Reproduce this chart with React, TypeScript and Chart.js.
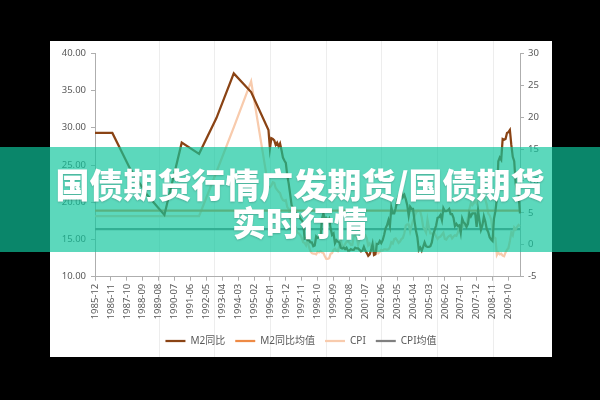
import React, { useEffect, useRef } from 'react';
import { Chart, registerables } from 'chart.js';

Chart.register(...registerables);

// ---------- data ----------
const START_YEAR = 1985;
const START_MONTH = 12;
const MONTH_COUNT = 295; // 1985-12 .. 2010-06

const CATEGORIES: string[] = [];
for (let i = 0; i < MONTH_COUNT; i++) {
  const m0 = START_MONTH - 1 + i;
  const y = START_YEAR + Math.floor(m0 / 12);
  const m = (m0 % 12) + 1;
  CATEGORIES.push(`${y}-${m < 10 ? '0' + m : m}`);
}

const TICK_LABELS = [
  '1985-12', '1986-11', '1987-10', '1988-09', '1989-08', '1990-07', '1991-06',
  '1992-05', '1993-04', '1994-03', '1995-02', '1996-01', '1996-12', '1997-11',
  '1998-10', '1999-09', '2000-08', '2001-07', '2002-06', '2003-05', '2004-04',
  '2005-03', '2006-02', '2007-01', '2007-12', '2008-11', '2009-10',
];

const LEFT_TICKS = [10, 15, 20, 25, 30, 35, 40];
const RIGHT_TICKS = [-5, 0, 5, 10, 15, 20, 25, 30];

const MONTHLY_START = '1996-01';

// M2 同比: early years only year-end readings
const M2_EARLY_DATES = ['1985-12', '1986-12', '1987-12', '1988-12', '1989-12', '1990-12', '1991-12', '1992-12', '1993-12', '1994-12', '1995-12'];
const M2_EARLY_VALUES = [29.3, 29.3, 24.6, 21.0, 18.3, 28.0, 26.5, 31.3, 37.3, 34.8, 29.7];

const M2_MONTHLY = [
  27.2, 28.6, 28.5, 28.3, 27.7, 28.0, 27.5, 27.9, 27.0, 26.0, 25.6, 25.3, // 1996
  23.6, 22.5, 21.1, 19.6, 19.2, 18.8, 18.6, 18.3, 18.2, 17.8, 17.6, 17.3, // 1997
  15.1, 15.2, 14.9, 14.9, 14.6, 14.6, 14.1, 14.2, 15.4, 15.2, 15.3, 15.3, // 1998
  17.8, 18.5, 17.8, 17.9, 17.5, 17.8, 16.5, 15.6, 15.8, 14.5, 14.9, 14.7, // 1999
  14.6, 13.9, 13.8, 13.9, 13.7, 13.9, 13.5, 13.5, 13.7, 13.6, 13.6, 13.9, // 2000
  13.8, 13.8, 13.6, 13.4, 13.5, 14.0, 13.5, 13.2, 12.8, 13.0, 13.6, 14.4, // 2001
  12.9, 13.0, 14.4, 14.4, 14.8, 14.5, 14.9, 15.6, 16.5, 16.9, 17.6, 16.8, // 2002
  19.3, 18.5, 18.5, 19.2, 20.2, 20.8, 20.7, 21.6, 20.7, 21.0, 20.4, 19.6, // 2003
  18.2, 19.4, 19.1, 19.1, 17.5, 16.2, 15.3, 13.6, 13.9, 13.5, 14.0, 14.6, // 2004
  14.1, 14.0, 14.0, 14.1, 14.6, 15.7, 16.3, 16.9, 17.9, 18.0, 18.3, 17.6, // 2005
  19.2, 18.8, 18.8, 18.9, 19.1, 18.4, 18.4, 17.9, 16.8, 17.1, 16.8, 16.9, // 2006
  15.9, 17.8, 17.3, 17.1, 16.7, 17.1, 18.5, 18.1, 18.5, 18.5, 18.5, 16.7, // 2007
  18.9, 17.5, 16.3, 16.9, 18.1, 17.4, 16.4, 16.0, 15.3, 15.0, 14.8, 17.8, // 2008
  18.8, 20.5, 25.5, 26.0, 25.7, 28.5, 28.4, 28.5, 29.3, 29.4, 29.7, 27.7, // 2009
  26.1, 25.5, 22.5, 21.5, 21.0, 18.5, // 2010
];

// CPI: early years only sparse readings
const CPI_EARLY_DATES = ['1985-12', '1986-12', '1987-12', '1988-12', '1989-12', '1990-12', '1991-12', '1992-12', '1993-12', '1994-12', '1995-12'];
const CPI_EARLY_VALUES = [4.5, 4.5, 4.5, 4.5, 4.5, 4.5, 4.5, 11.4, 18.4, 25.6, 9.0];

const CPI_MONTHLY = [
  9.0, 9.3, 9.8, 9.7, 8.9, 8.6, 8.3, 8.1, 7.4, 7.0, 6.9, 7.0, // 1996
  5.9, 5.6, 4.0, 3.2, 2.8, 2.8, 2.7, 1.9, 1.8, 1.5, 1.1, 0.4, // 1997
  0.3, -0.1, 0.7, -0.3, -1.0, -1.3, -1.4, -1.4, -1.5, -1.1, -1.2, -1.0, // 1998
  -1.2, -1.3, -1.8, -2.2, -2.2, -2.1, -1.4, -1.3, -0.8, -0.6, -0.9, -1.0, // 1999
  -0.2, 0.7, -0.2, -0.3, 0.1, 0.5, 0.5, 0.3, 0.0, 0.0, 1.3, 1.5, // 2000
  1.2, 0.0, 0.8, 1.6, 1.7, 1.4, 1.5, 1.0, -0.1, 0.2, -0.3, -0.3, // 2001
  -1.0, 0.0, -0.8, -1.3, -1.1, -0.8, -0.9, -0.7, -0.7, -0.8, -0.7, -0.4, // 2002
  0.4, 0.2, 0.9, 1.0, 0.7, 0.3, 0.5, 0.9, 1.1, 1.8, 3.0, 3.2, // 2003
  3.2, 2.1, 3.0, 3.8, 4.4, 5.0, 5.3, 5.3, 5.2, 4.3, 2.8, 2.4, // 2004
  1.9, 3.9, 2.7, 1.8, 1.8, 1.6, 1.8, 1.3, 0.9, 1.2, 1.3, 1.6, // 2005
  1.9, 0.9, 0.8, 1.2, 1.4, 1.5, 1.0, 1.3, 1.5, 1.4, 1.9, 2.8, // 2006
  2.2, 2.7, 3.3, 3.0, 3.4, 4.4, 5.6, 6.5, 6.2, 6.5, 6.9, 6.5, // 2007
  7.1, 8.7, 8.3, 8.5, 7.7, 7.1, 6.3, 4.9, 4.6, 4.0, 2.4, 1.2, // 2008
  1.0, -1.6, -1.2, -1.5, -1.4, -1.7, -1.8, -1.2, -0.8, -0.5, 0.6, 1.9, // 2009
  1.5, 2.7, 2.4, 2.8, 3.1, 2.9, // 2010
];

const M2_MEAN = 18.87;
const CPI_MEAN = 2.47;

// faint vertical background lines (in month-index units)
const VLINE_MONTHS = [44, 82.5, 121, 159.5, 198, 236.5, 275];

const SERIES_NAMES = ['M2同比', 'M2同比均值', 'CPI', 'CPI均值'];
const TITLE_LINES = ['国债期货行情广发期货/国债期货', '实时行情'];

// ---------- styles ----------
const COLORS = ['#8A4314', '#EE8A45', '#F8CBAD', '#808080'];
const AXIS_COLOR = '#AEAEAE';
const TEXT_COLOR = '#595959';
const FONT = "'Noto Sans', 'Noto Sans CJK SC', sans-serif";

function buildSeries(dates: string[], values: number[], monthly: number[]): (number | null)[] {
  const startIdx = CATEGORIES.indexOf(MONTHLY_START);
  return CATEGORIES.map((c, i) => {
    if (i >= startIdx) {
      const v = monthly[i - startIdx];
      return v === undefined ? null : v;
    }
    const k = dates.indexOf(c);
    return k >= 0 ? values[k] : null;
  });
}

const vlinePlugin = {
  id: 'vlines',
  beforeDraw(chart: any) {
    const { ctx } = chart;
    const xs = chart.scales.x;
    ctx.save();
    ctx.strokeStyle = '#EDEDED';
    ctx.lineWidth = 1;
    VLINE_MONTHS.forEach((v) => {
      const px = Math.round(xs.getPixelForValue(v)) + 0.5;
      ctx.beginPath();
      ctx.moveTo(px, 0);
      ctx.lineTo(px, chart.height);
      ctx.stroke();
    });
    ctx.restore();
  },
};

function ChartPanel() {
  const ref = useRef<HTMLCanvasElement | null>(null);

  useEffect(() => {
    if (!ref.current) return;
    const m2 = buildSeries(M2_EARLY_DATES, M2_EARLY_VALUES, M2_MONTHLY);
    const cpi = buildSeries(CPI_EARLY_DATES, CPI_EARLY_VALUES, CPI_MONTHLY);
    const m2Mean = CATEGORIES.map(() => M2_MEAN);
    const cpiMean = CATEGORIES.map(() => CPI_MEAN);
    const seriesData = [m2, m2Mean, cpi, cpiMean];
    const axisIds = ['y', 'y', 'y1', 'y1'];

    const datasets = SERIES_NAMES.map((name, i) => ({
      label: name,
      data: seriesData[i],
      yAxisID: axisIds[i],
      borderColor: COLORS[i],
      backgroundColor: COLORS[i],
      pointBorderColor: COLORS[i],
      pointBackgroundColor: COLORS[i],
      borderWidth: 2.25,
      pointBorderWidth: 2.25,
      pointRadius: 0,
      pointHoverRadius: 0,
      pointStyle: 'line',
      spanGaps: true,
      tension: 0,
      fill: false,
    }));

    const tickFont = { size: 9.5, family: FONT };

    const chart = new Chart(ref.current, {
      type: 'line',
      data: { labels: CATEGORIES, datasets: datasets as any },
      options: {
        responsive: false,
        animation: false,
        devicePixelRatio: 1,
        layout: { padding: { top: 12.3, bottom: 1, left: 0, right: 0 } },
        plugins: {
          legend: {
            position: 'bottom',
            labels: {
              usePointStyle: true,
              pointStyleWidth: 20,
              boxHeight: 10,
              padding: 10,
              color: TEXT_COLOR,
              font: { size: 10, family: FONT },
            },
          },
          tooltip: { enabled: false },
        },
        scales: {
          x: {
            type: 'category',
            offset: false,
            border: { display: true, color: AXIS_COLOR },
            grid: {
              drawOnChartArea: false,
              drawTicks: true,
              tickLength: 4,
              tickColor: (ctx: any) =>
                TICK_LABELS.includes(CATEGORIES[ctx.index]) ? AXIS_COLOR : 'rgba(0,0,0,0)',
            },
            ticks: {
              autoSkip: false,
              maxRotation: 90,
              minRotation: 90,
              padding: 3,
              color: TEXT_COLOR,
              font: tickFont,
              callback: (_v: any, i: number) =>
                TICK_LABELS.includes(CATEGORIES[i]) ? CATEGORIES[i] : '',
            },
            afterFit: (s: any) => {
              s.height = 49.3;
            },
          },
          y: {
            position: 'left',
            min: LEFT_TICKS[0],
            max: LEFT_TICKS[LEFT_TICKS.length - 1],
            border: { display: true, color: AXIS_COLOR },
            grid: { drawOnChartArea: false, drawTicks: true, tickLength: 4, tickColor: AXIS_COLOR },
            ticks: {
              stepSize: 5,
              padding: 5,
              color: TEXT_COLOR,
              font: tickFont,
              callback: (v: any) => Number(v).toFixed(2),
            },
            afterFit: (s: any) => {
              s.width = 45;
            },
          },
          y1: {
            position: 'right',
            min: RIGHT_TICKS[0],
            max: RIGHT_TICKS[RIGHT_TICKS.length - 1],
            border: { display: true, color: AXIS_COLOR },
            grid: { drawOnChartArea: false, drawTicks: true, tickLength: 4, tickColor: AXIS_COLOR },
            ticks: {
              stepSize: 5,
              padding: 4,
              color: TEXT_COLOR,
              font: tickFont,
            },
            afterFit: (s: any) => {
              s.width = 32;
            },
          },
        },
      } as any,
      plugins: [vlinePlugin],
    });
    return () => chart.destroy();
  }, []);

  return <canvas ref={ref} width={502} height={316} style={{ display: 'block' }} />;
}

export default function App() {
  useEffect(() => {
    document.body.style.margin = '0';
    document.body.style.background = '#000';
  }, []);

  return (
    <div style={{ position: 'relative', width: 600, height: 400, background: '#000', overflow: 'hidden' }}>
      <div style={{ position: 'absolute', left: 50, top: 41, width: 502, height: 316, background: '#fff' }}>
        <ChartPanel />
      </div>
      <div
        style={{
          position: 'absolute',
          left: 0,
          top: 147,
          width: 600,
          height: 105,
          background: 'rgba(15,198,156,0.68)',
        }}
      />
      <div
        style={{
          position: 'absolute',
          left: 0,
          top: 165,
          width: 600,
          textAlign: 'center',
          color: '#fff',
          fontFamily: "'Noto Sans CJK SC', sans-serif",
          fontWeight: 900,
          fontSize: 34,
          lineHeight: '38px',
          textShadow: '0 1px 2px rgba(0,0,0,0.2)',
          whiteSpace: 'nowrap',
        }}
      >
        {TITLE_LINES.map((t) => (
          <div key={t}>{t}</div>
        ))}
      </div>
    </div>
  );
}
